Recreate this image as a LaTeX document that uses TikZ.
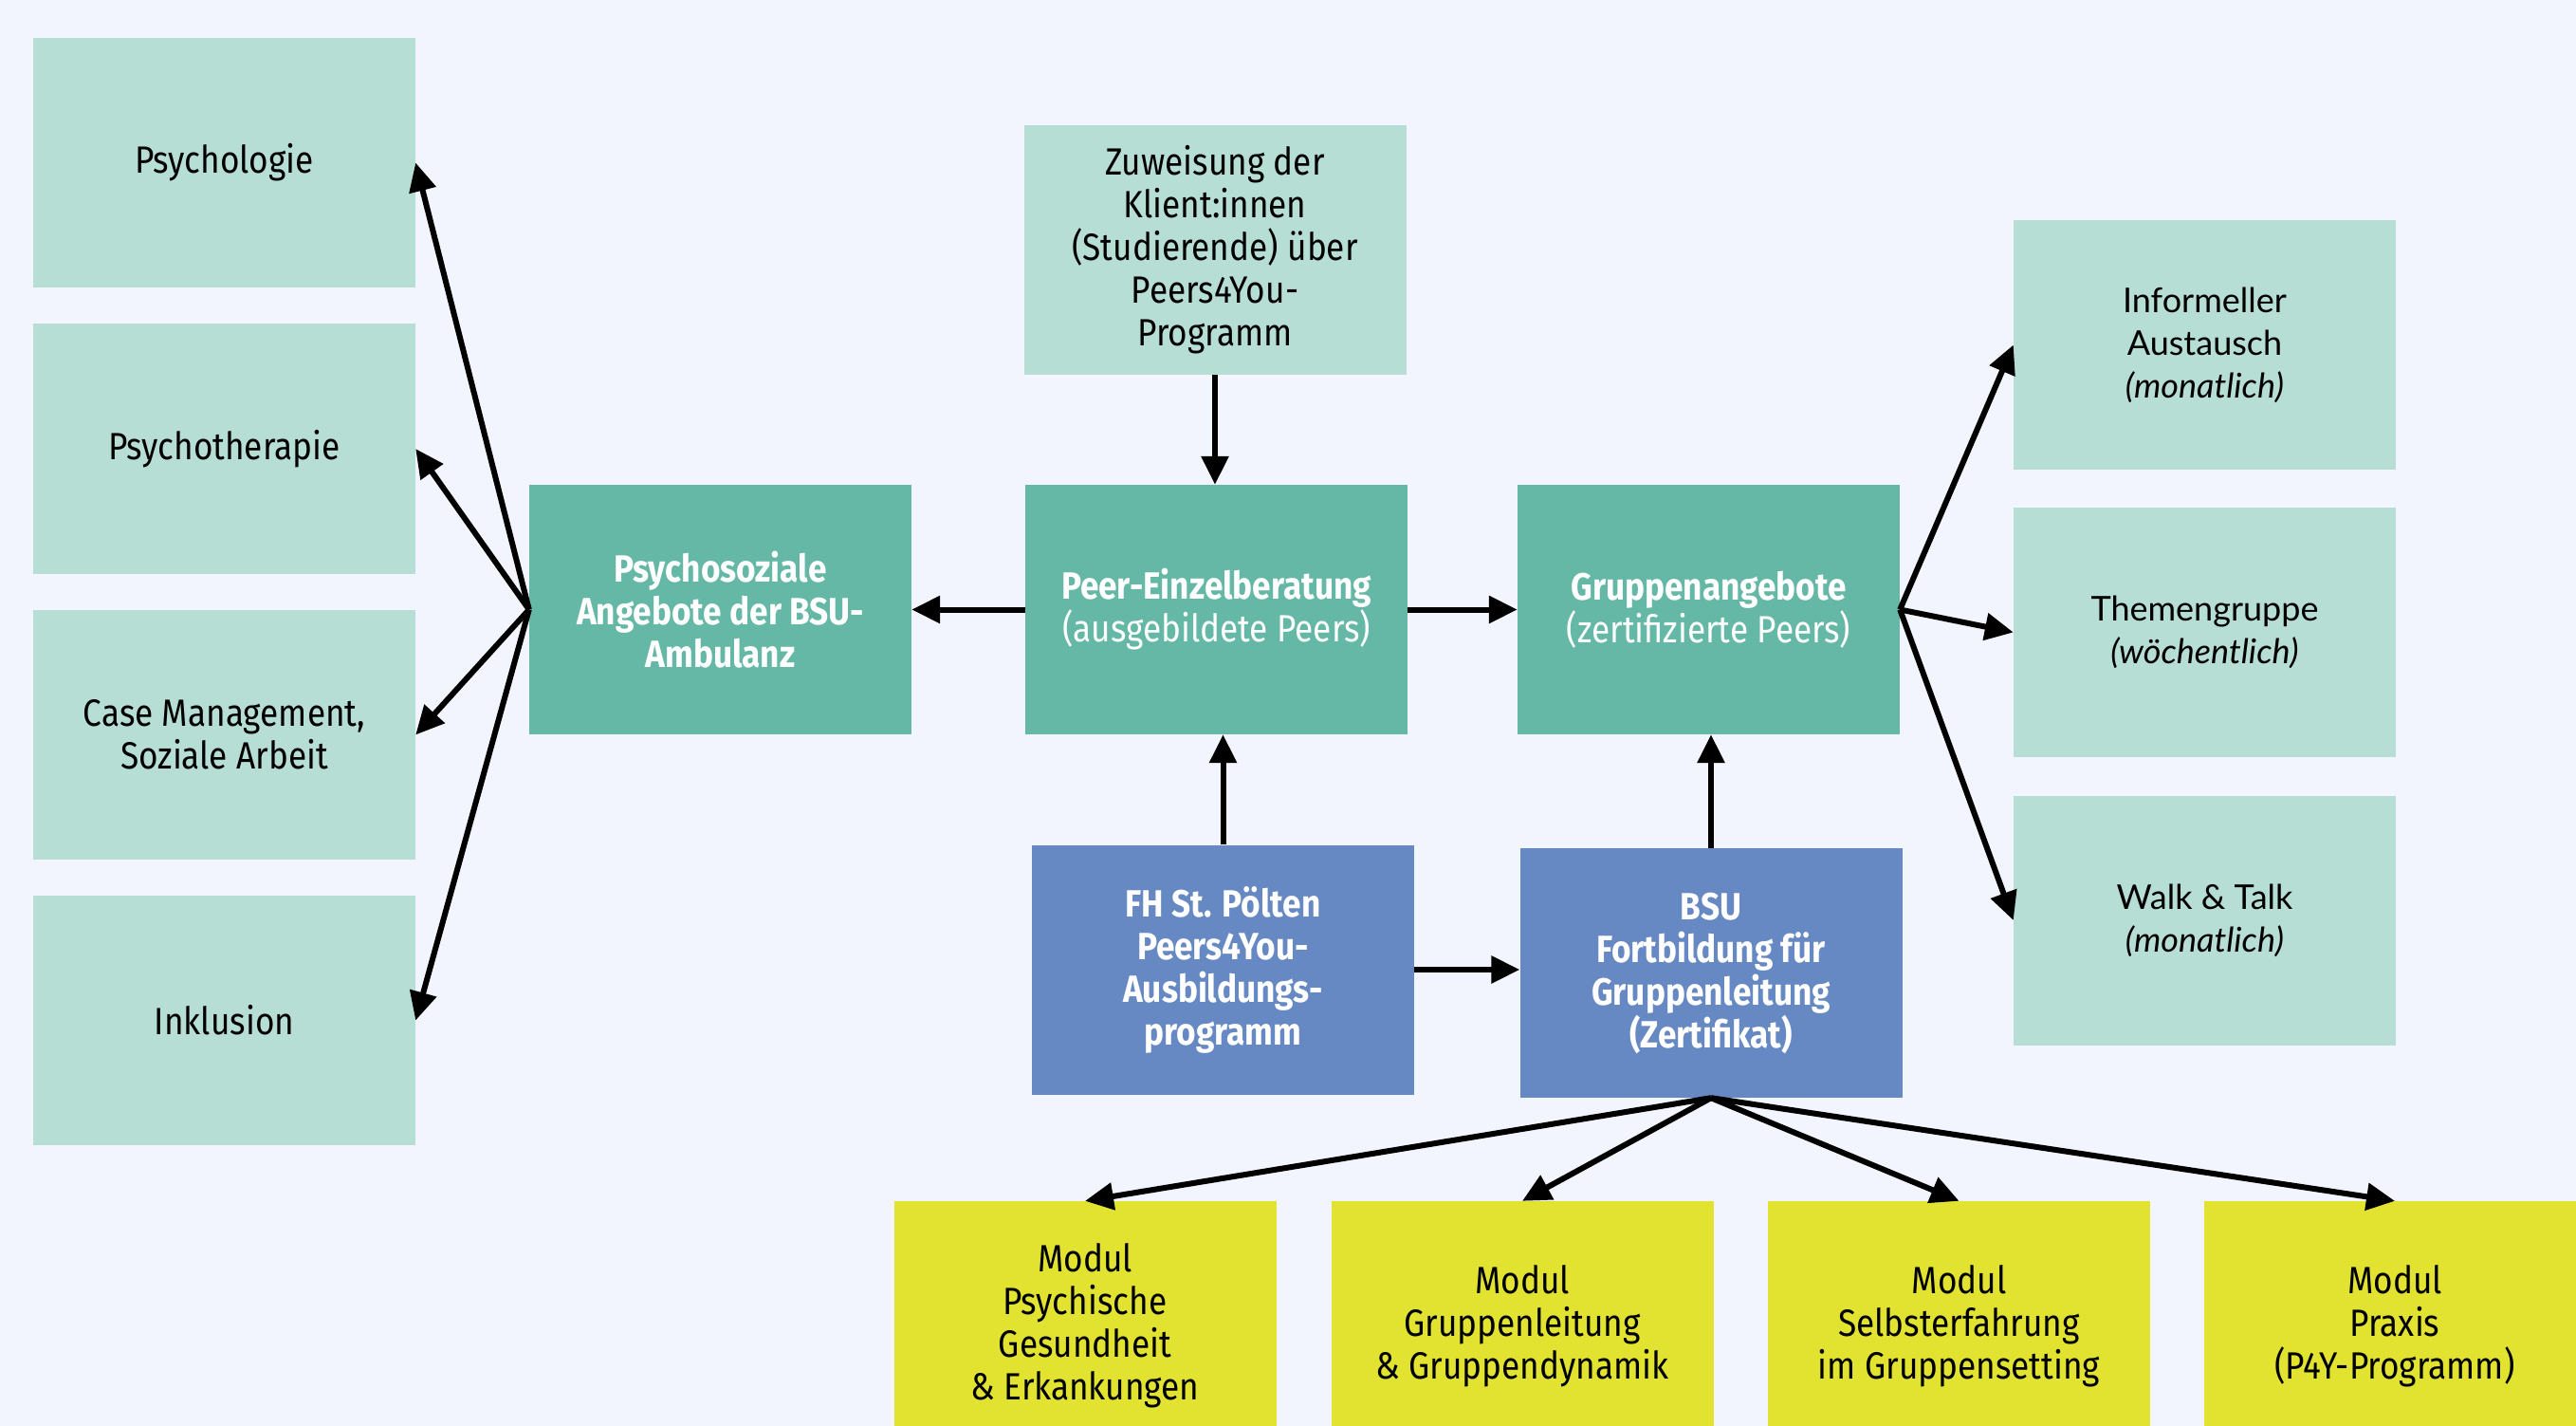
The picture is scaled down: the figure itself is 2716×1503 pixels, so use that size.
\documentclass[tikz,border=0pt]{standalone}
\usepackage{fontspec}
\setmainfont{Fira Sans}[FakeStretch=0.88]
\newfontfamily\rfont{Lato}
\usetikzlibrary{arrows.meta}
\definecolor{cBg}{RGB}{242,245,253}
\definecolor{cLight}{RGB}{182,222,213}
\definecolor{cMid}{RGB}{100,184,165}
\definecolor{cBlue}{RGB}{103,137,195}
\definecolor{cYel}{RGB}{226,227,48}
\begin{document}
\begin{tikzpicture}[x=1pt,y=-1pt,
  box/.style={minimum width=403pt, minimum height=263pt, inner sep=0pt, align=center,
    font=\fontsize{40}{45}\selectfont, text=black},
  lightbox/.style={box, fill=cLight},
  midbox/.style={box, fill=cMid, text=white},
  bluebox/.style={box, fill=cBlue, text=white},
  yelbox/.style={box, fill=cYel},
  rbox/.style={lightbox, font=\rfont\fontsize{36}{45}\selectfont},
  arr/.style={-{Triangle[length=30pt,width=28pt]}, line width=6pt, black}]
\fill[cBg] (0,0) rectangle (2716,1503);
\useasboundingbox (0,0) rectangle (2716,1503);
\clip (0,0) rectangle (2716,1503);

% left column
\node[lightbox] (l1) at (236.5,171.5) {Psychologie};
\node[lightbox] (l2) at (236.5,473) {Psychotherapie};
\node[lightbox] (l3) at (236.5,774.5) {Case Management,\\Soziale Arbeit};
\node[lightbox] (l4) at (236.5,1075.5) {Inklusion};

% middle
\node[midbox] (psy) at (759.5,642.5) {\textbf{Psychosoziale}\\\textbf{Angebote der BSU-}\\\textbf{Ambulanz}};
\node[lightbox] (zw) at (1281,263.5) {Zuweisung der\\Klient:innen\\(Studierende) über\\Peers4You-\\Programm};
\node[midbox] (peer) at (1282.5,642.5) {\textbf{Peer-Einzelberatung}\\(ausgebildete Peers)};
\node[midbox] (grp) at (1801.5,642.5) {\textbf{Gruppenangebote}\\(zertifizierte Peers)};
\node[bluebox] (fh) at (1289.5,1022) {\textbf{FH St. Pölten}\\\textbf{Peers4You-}\\\textbf{Ausbildungs-}\\\textbf{programm}};
\node[bluebox] (bsu) at (1804,1025.5) {\textbf{BSU}\\\textbf{Fortbildung für}\\\textbf{Gruppenleitung}\\\textbf{(Zertifikat)}};

% right column
\node[rbox] (r1) at (2324.5,363.5) {Informeller\\Austausch\\\textit{(monatlich)}};
\node[rbox] (r2) at (2324.5,666.5) {Themengruppe\\\textit{(wöchentlich)}};
\node[rbox] (r3) at (2324.5,970) {Walk \& Talk\\\textit{(monatlich)}};

% bottom modules
\node[yelbox] (m1) at (1144,1397.5) {Modul\\Psychische\\Gesundheit\\\& Erkankungen};
\node[yelbox] (m2) at (1605,1397.5) {Modul\\Gruppenleitung\\\& Gruppendynamik};
\node[yelbox] (m3) at (2065.5,1397.5) {Modul\\Selbsterfahrung\\im Gruppensetting};
\node[yelbox] (m4) at (2525,1397.5) {Modul\\Praxis\\(P4Y-Programm)};

% connectors
\foreach \t in {l1,l2,l3,l4} \draw[arr] (psy.west) -- (\t.east);
\draw[arr] (peer.west) -- (psy.east);
\draw[arr] (zw.south) -- (zw.south |- peer.north);
\draw[arr] (peer.east) -- (grp.west);
\draw[arr] (fh.north) -- (fh.north |- peer.south);
\draw[arr] (bsu.north) -- (bsu.north |- grp.south);
\draw[arr] (fh.east) -- (fh.east -| bsu.west);
\foreach \t in {r1,r2,r3} \draw[arr] (grp.east) -- (\t.west);
\foreach \t in {m1,m2,m3,m4} \draw[arr] (bsu.south) -- (\t.north);
\end{tikzpicture}
\end{document}
